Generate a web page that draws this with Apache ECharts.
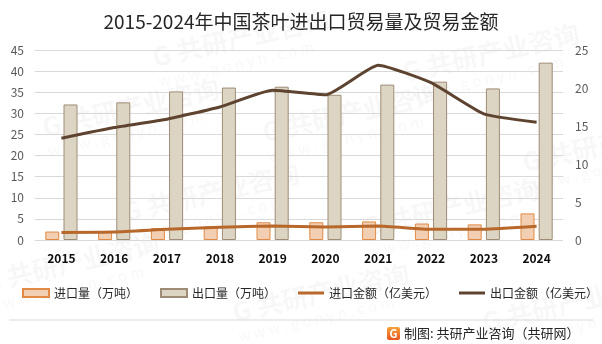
<!DOCTYPE html>
<html>
<head>
<meta charset="utf-8">
<script src="https://cdn.jsdelivr.net/npm/echarts@6/dist/echarts.min.js"></script>
<style>
  html, body { margin: 0; padding: 0; background: #fff; }
  #chart { width: 602px; height: 344px; }
</style>
</head>
<body>
<div id="chart"></div>
<script>
// 2015-2024 China tea import/export volume and value
const years = ['2015', '2016', '2017', '2018', '2019', '2020', '2021', '2022', '2023', '2024'];
const importVolume = [2.0, 2.0, 2.8, 3.2, 4.2, 4.2, 4.4, 3.9, 3.7, 6.3];          // 万吨
const exportVolume = [32.1, 32.6, 35.2, 36.1, 36.3, 34.4, 36.8, 37.5, 35.9, 42.0]; // 万吨
const importValue = [1.0, 1.05, 1.4, 1.67, 1.84, 1.7, 1.84, 1.4, 1.4, 1.8];       // 亿美元
const exportValue = [13.4, 14.8, 15.9, 17.5, 19.7, 19.1, 23.0, 20.7, 16.6, 15.5];  // 亿美元

const leftTicks = { min: 0, max: 45, interval: 5 };
const rightTicks = { min: 0, max: 25, interval: 5 };

const FONT = '"Microsoft YaHei", "Noto Sans CJK SC", sans-serif';

// faint brand marks across the canvas
const marks = [[150, 45], [400, 60], [40, 115], [260, 120], [520, 150], [120, 200], [360, 215], [600, 260], [230, 300], [480, 310], [-20, 270]];
const markGraphics = marks.map(([x, y]) => ({
  type: 'group',
  x: x, y: y,
  rotation: Math.PI / 14,
  silent: true,
  z: 0,
  children: [
    { type: 'text', style: { text: 'G 共研产业咨询', font: 'bold 26px ' + FONT, fill: 'rgba(0,0,0,0.03)' } },
    { type: 'text', y: 30, style: { text: 'w w w . g o n y n . c o m', font: '15px ' + FONT, fill: 'rgba(0,0,0,0.03)' } }
  ]
}));

const chart = echarts.init(document.getElementById('chart'), null, { renderer: 'canvas' });
chart.setOption({
  backgroundColor: '#ffffff',
  animation: false,
  textStyle: { fontFamily: FONT },
  title: {
    text: '2015-2024年中国茶叶进出口贸易量及贸易金额',
    left: 'center',
    top: 7,
    textStyle: { fontSize: 19, fontWeight: 'normal', color: '#262626', fontFamily: FONT }
  },
  legend: {
    left: 22,
    top: 287,
    width: 578,
    padding: 0,
    itemWidth: 26,
    itemHeight: 8,
    itemGap: 22,
    textStyle: { fontSize: 12, color: '#262626', fontFamily: FONT },
    data: [
      { name: '进口量（万吨）', icon: 'rect' },
      { name: '出口量（万吨）', icon: 'rect' },
      { name: '进口金额（亿美元）', icon: 'path://M0,0 L26,0 L26,3 L0,3 Z' },
      { name: '出口金额（亿美元）', icon: 'path://M0,0 L26,0 L26,3 L0,3 Z' }
    ]
  },
  grid: { left: 35, right: 39, top: 50, bottom: 104 },
  xAxis: {
    type: 'category',
    data: years,
    axisLine: { show: false },
    axisTick: { show: false },
    axisLabel: { fontSize: 12, fontWeight: 'bold', color: '#0d0d0d', margin: 12, fontFamily: FONT }
  },
  yAxis: [
    {
      type: 'value',
      min: leftTicks.min, max: leftTicks.max, interval: leftTicks.interval,
      axisLine: { show: false },
      axisTick: { show: false },
      axisLabel: { fontSize: 12, color: '#595959', margin: 11, fontFamily: FONT },
      splitLine: { lineStyle: { color: '#d9d9d9', width: 1 } }
    },
    {
      type: 'value',
      min: rightTicks.min, max: rightTicks.max, interval: rightTicks.interval,
      axisLine: { show: false },
      axisTick: { show: false },
      axisLabel: { fontSize: 12, color: '#595959', margin: 12, fontFamily: FONT },
      splitLine: { show: false }
    }
  ],
  series: [
    {
      name: '进口量（万吨）',
      type: 'bar',
      yAxisIndex: 0,
      data: importVolume,
      barWidth: 14,
      barGap: '30%',
      itemStyle: { color: '#f2ceb2', borderColor: '#e08a45', borderWidth: 1 },
      z: 2
    },
    {
      name: '出口量（万吨）',
      type: 'bar',
      yAxisIndex: 0,
      data: exportVolume,
      barWidth: 14,
      barGap: '30%',
      itemStyle: { color: '#ddd5c3', borderColor: '#9e8c76', borderWidth: 1 },
      z: 2
    },
    {
      name: '进口金额（亿美元）',
      type: 'line',
      yAxisIndex: 1,
      data: importValue,
      smooth: 0.15,
      symbol: 'none',
      lineStyle: { color: '#b8682a', width: 3 },
      itemStyle: { color: '#b8682a' },
      z: 3
    },
    {
      name: '出口金额（亿美元）',
      type: 'line',
      yAxisIndex: 1,
      data: exportValue,
      smooth: 0.15,
      symbol: 'none',
      lineStyle: { color: '#5e4430', width: 3 },
      itemStyle: { color: '#5e4430' },
      z: 3
    }
  ],
  graphic: markGraphics.concat([
    {
      type: 'line',
      shape: { x1: 9, y1: 320, x2: 593, y2: 320 },
      style: { stroke: '#d9d9d9', lineWidth: 1 },
      silent: true
    },
    {
      type: 'rect',
      shape: { x: 387, y: 327, width: 13, height: 13, r: 2 },
      style: {
        fill: new echarts.graphic.LinearGradient(0, 0, 0, 1, [
          { offset: 0, color: '#f7a23a' }, { offset: 1, color: '#e8541e' }
        ])
      },
      silent: true
    },
    {
      type: 'text',
      x: 393.5, y: 333.5,
      style: { text: 'G', font: 'bold 11px ' + FONT, fill: '#ffffff', align: 'center', verticalAlign: 'middle' },
      silent: true
    },
    {
      type: 'text',
      x: 404, y: 333.5,
      style: { text: '制图: 共研产业咨询（共研网）', font: '13px ' + FONT, fill: '#262626', verticalAlign: 'middle' },
      silent: true
    }
  ])
});
</script>
</body>
</html>
